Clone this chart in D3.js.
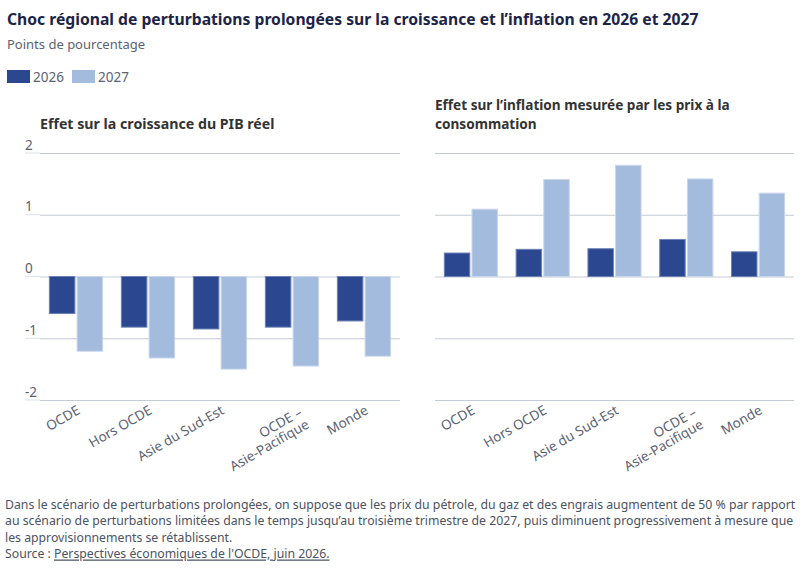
<!DOCTYPE html>
<html>
<head>
<meta charset="utf-8">
<script src="https://cdn.jsdelivr.net/npm/d3@7"></script>
<style>
  body { margin: 0; background: #fff; }
  text { font-family: "Noto Sans", sans-serif; }
</style>
</head>
<body>
<div id="chart"></div>
<script>
var svgWidth = 809;
var svgHeight = 569;

// data
var regions = ["OCDE", "Hors OCDE", "Asie du Sud-Est", "OCDE –\nAsie-Pacifique", "Monde"];
var years = ["2026", "2027"];
var growth2026 = [-0.60, -0.82, -0.85, -0.82, -0.72];
var growth2027 = [-1.21, -1.32, -1.50, -1.45, -1.29];
var inflation2026 = [0.38, 0.44, 0.45, 0.60, 0.40];
var inflation2027 = [1.09, 1.57, 1.80, 1.58, 1.35];
var yTicks = [-2, -1, 0, 1, 2];

var colors = { "2026": "#2b4790", "2027": "#a3bbdc" };
var strokes = { "2026": "#6c82b6", "2027": "#c9d7ec" };

var svg = d3.select("#chart")
  .append("svg")
  .attr("width", svgWidth)
  .attr("height", svgHeight);

// title block
svg.append("text")
  .attr("x", 7)
  .attr("y", 25)
  .attr("font-size", 15.7)
  .attr("font-weight", 700)
  .attr("fill", "#1c2447")
  .text("Choc régional de perturbations prolongées sur la croissance et l’inflation en 2026 et 2027");

svg.append("text")
  .attr("x", 7)
  .attr("y", 49)
  .attr("font-size", 13)
  .attr("fill", "#5b6273")
  .text("Points de pourcentage");

// legend
var legend = svg.append("g").attr("transform", "translate(7, 70)");
var legendX = [0, 65];
years.forEach(function(yr, i) {
  legend.append("rect")
    .attr("x", legendX[i])
    .attr("y", 0)
    .attr("width", 23)
    .attr("height", 13)
    .attr("fill", colors[yr]);
  legend.append("text")
    .attr("x", legendX[i] + 26)
    .attr("y", 11.5)
    .attr("font-size", 13.5)
    .attr("fill", "#5b6273")
    .text(yr);
});

var y = d3.scaleLinear()
  .domain([-2, 2])
  .range([400, 153]);

function drawPanel(opts) {
  var g = svg.append("g");

  var x0 = d3.scaleBand()
    .domain(regions)
    .range([opts.left, opts.right])
    .paddingInner(0.26)
    .paddingOuter(0.13);

  var x1 = d3.scaleBand()
    .domain(years)
    .range([0, x0.bandwidth()])
    .paddingInner(0.08);

  // panel title, one text per line
  opts.title.forEach(function(line, i) {
    g.append("text")
      .attr("x", opts.left)
      .attr("y", opts.titleY + i * 18.7)
      .attr("font-size", opts.titleSize)
      .attr("font-weight", 700)
      .attr("fill", "#333333")
      .text(line);
  });

  // gridlines
  var grid = g.append("g")
    .attr("transform", `translate(${opts.left}, 0)`)
    .call(d3.axisLeft(y)
      .tickValues(yTicks)
      .tickSize(-(opts.right - opts.left))
      .tickFormat(""));
  grid.select(".domain").remove();
  grid.selectAll("line").attr("stroke", "#c4cad6").attr("stroke-width", 1);

  if (opts.showLabels) {
    var ticks = g.append("g").selectAll("g")
      .data(yTicks)
      .enter()
      .append("g");
    ticks.append("line")
      .attr("x1", opts.left - 15)
      .attr("x2", opts.left)
      .attr("y1", d => y(d))
      .attr("y2", d => y(d))
      .attr("stroke", "#dde1e8");
    ticks.append("text")
      .attr("x", opts.left - 15)
      .attr("y", d => y(d) - 3.5)
      .attr("font-size", 13.5)
      .attr("fill", "#5b6273")
      .text(d => d);
  }

  // bars
  var rows = regions.map(function(r, i) {
    return { region: r, values: [opts.a[i], opts.b[i]] };
  });

  var groups = g.append("g").selectAll("g")
    .data(rows)
    .enter()
    .append("g")
    .attr("transform", d => `translate(${x0(d.region)}, 0)`);

  groups.selectAll("rect")
    .data(d => d.values.map((v, j) => ({ year: years[j], value: v })))
    .enter()
    .append("rect")
    .attr("x", d => x1(d.year))
    .attr("width", x1.bandwidth())
    .attr("y", d => y(Math.max(0, d.value)))
    .attr("height", d => Math.abs(y(d.value) - y(0)))
    .attr("fill", d => colors[d.year])
    .attr("stroke", d => strokes[d.year])
    .attr("stroke-width", 1);

  // rotated category labels
  var labels = g.append("g").selectAll("text")
    .data(regions)
    .enter()
    .append("text")
    .attr("text-anchor", "end")
    .attr("font-size", 13.5)
    .attr("fill", "#5b6273")
    .attr("transform", function(d) {
      var multi = d.indexOf("\n") >= 0;
      var cx = x0(d) + x0.bandwidth() / 2 + (multi ? 11 : 5);
      return `translate(${cx}, ${multi ? 415 : 413}) rotate(-30)`;
    });

  labels.each(function(d) {
    var el = d3.select(this);
    d.split("\n").forEach(function(line, i) {
      el.append("tspan")
        .attr("x", 0)
        .attr("y", i * 14)
        .text(line);
    });
  });
}

drawPanel({
  left: 40, right: 400, titleY: 129, titleSize: 14.2,
  title: ["Effet sur la croissance du PIB réel"],
  a: growth2026, b: growth2027, showLabels: true
});

drawPanel({
  left: 435, right: 794, titleY: 110, titleSize: 13.6,
  title: ["Effet sur l’inflation mesurée par les prix à la", "consommation"],
  a: inflation2026, b: inflation2027, showLabels: false
});

// footnote, set in a narrow face
var notes = [
  "Dans le scénario de perturbations prolongées, on suppose que les prix du pétrole, du gaz et des engrais augmentent de 50 % par rapport",
  "au scénario de perturbations limitées dans le temps jusqu’au troisième trimestre de 2027, puis diminuent progressivement à mesure que",
  "les approvisionnements se rétablissent."
];

var foot = svg.append("g");
var footInner = foot.append("g");
notes.forEach(function(line, i) {
  footInner.append("text")
    .attr("x", 0)
    .attr("y", 509 + i * 16.5)
    .attr("font-size", 12.5)
    .attr("fill", "#4b5263")
    .text(line);
});

var source = footInner.append("text")
  .attr("x", 0)
  .attr("y", 509 + 3 * 16.5)
  .attr("font-size", 12.5)
  .attr("fill", "#4b5263");
source.append("tspan").text("Source : ");
source.append("tspan")
  .attr("text-decoration", "underline")
  .text("Perspectives économiques de l'OCDE, juin 2026.");

var firstLen = footInner.select("text").node().getComputedTextLength();
var sx = 791 / firstLen;
footInner.attr("transform", `translate(5, 0) scale(${sx}, 1)`);
</script>
</body>
</html>
